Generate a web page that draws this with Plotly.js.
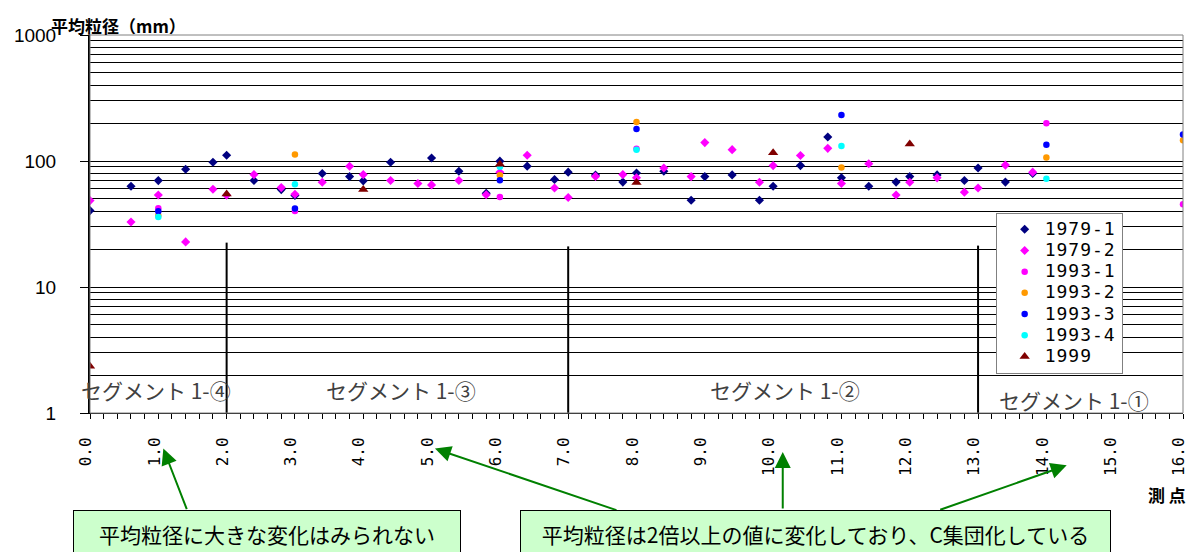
<!DOCTYPE html>
<html>
<head>
<meta charset="utf-8">
<script src="https://cdn.plot.ly/plotly-3.0.1.min.js"></script>
<style>
html,body{margin:0;padding:0;background:#fff;}
#chart{width:1190px;height:552px;}
.legendtext{font-size:18px !important; letter-spacing:1px;}
</style>
</head>
<body>
<div id="chart"></div>
<script>
// ---- data ----
const x1979 = [0,0.6,1.0,1.4,1.8,2.0,2.4,2.8,3.0,3.4,3.8,4.0,4.4,4.8,5.0,5.4,5.8,6.0,6.4,6.8,7.0,7.4,7.8,8.0,8.4,8.8,9.0,9.4,9.8,10.0,10.4,10.8,11.0,11.4,11.8,12.0,12.4,12.8,13.0,13.4,13.8];
const y1979_1 = [40.4,63,69.9,86,97.7,111,70,59.3,53.3,79.5,75.2,69.6,97.7,null,105.7,83,55.4,99.7,91,71.3,81.6,77.5,68,80.2,83,48.8,75.2,77.6,48.8,63,91.9,155,73.5,63,68,75.2,77.6,70,88,68,79.5];
const y1979_2 = [48.5,32.8,53.7,22.8,59.6,53.5,78,61.5,54.5,67.8,90.8,78,70,66.3,64.6,70,54,81.4,111,61,51.3,75.5,78,73.6,87.9,75.2,140,123,67.8,91.9,110.7,126,66.3,95,53.7,67.8,73.5,56.6,61,92.8,81.6];
const x1993_1 = [1,3,6,8,14,16];
const y1993_1 = [42.1,40.1,51.9,125,199,45.3];
const x1993_2 = [1,3,6,8,11,14,16];
const y1993_2 = [37,112.6,77,204,88.8,106.8,146];
const x1993_3 = [1,3,6,8,11,14,16];
const y1993_3 = [39.9,41.9,70.4,179.5,231.6,134.7,162];
const x1993_4 = [1,3,6,8,11,14];
const y1993_4 = [36,65.3,89.9,123,131.7,72.2];
const x1999 = [0,2,4,6,8,10,12];
const y1999 = [2.35,54.7,59.3,94.3,67.6,116.5,136.5];

// segment boundaries and labels
const segX = [2,7,13];
const segTop = [22.5,21,21.3];
const segLabels = ['セグメント 1-④','セグメント 1-③','セグメント 1-②','セグメント 1-①'];
const segLabelX = [0.96,4.55,10.18,14.4];
const segLabelY = [1.51,1.51,1.51,1.26];

const yMajor = [1,10,100,1000];
const yMinor = [2,3,4,5,6,7,8,9,20,30,40,50,60,70,80,90,200,300,400,500,600,700,800,900];

const yTitle = '平均粒径（mm）';
const xTitle = '測 点';
const note1 = '平均粒径に大きな変化はみられない';
const note2 = '平均粒径は2倍以上の値に変化しており、C集団化している';

// ---- traces ----
const segLx = [], segLy = [];
segX.forEach((v,i)=>{segLx.push(v,v,null); segLy.push(1,segTop[i],null);});

const traces = [
  {x:segLx, y:segLy, mode:'lines', line:{color:'#000',width:2}, showlegend:false, hoverinfo:'skip'},
  {name:'1979-1', x:x1979, y:y1979_1, mode:'markers', marker:{symbol:'diamond', size:7, color:'#000080'}},
  {name:'1979-2', x:x1979, y:y1979_2, mode:'markers', marker:{symbol:'diamond', size:7, color:'#ff00ff'}},
  {name:'1993-1', x:x1993_1, y:y1993_1, mode:'markers', marker:{symbol:'circle', size:6.5, color:'#ff00ff'}},
  {name:'1993-2', x:x1993_2, y:y1993_2, mode:'markers', marker:{symbol:'circle', size:6.5, color:'#ff9900'}},
  {name:'1993-3', x:x1993_3, y:y1993_3, mode:'markers', marker:{symbol:'circle', size:6.5, color:'#0000ff'}},
  {name:'1993-4', x:x1993_4, y:y1993_4, mode:'markers', marker:{symbol:'circle', size:6.5, color:'#00ffff'}},
  {name:'1999', x:x1999, y:y1999, mode:'markers', marker:{symbol:'triangle-up', size:9, color:'#800000'}}
];

const jp = 'Noto Sans CJK JP';
const annotations = [];
segLabels.forEach((t,i)=>{
  annotations.push({text:t, xref:'x', yref:'y', x:segLabelX[i], y:Math.log10(segLabelY[i]),
    showarrow:false, font:{family:jp, size:21, color:'#404040'}});
});
annotations.push({text:yTitle, xref:'paper', yref:'paper', x:-0.0375, y:1.0257, xanchor:'left', yanchor:'middle',
  showarrow:false, font:{family:jp, size:17, color:'#000', weight:'bold'}});
annotations.push({text:xTitle, xref:'paper', yref:'paper', x:0.9858, y:-0.2164, xanchor:'center', yanchor:'middle',
  showarrow:false, font:{family:jp, size:17, color:'#000', weight:'bold'}});
// arrows
const arrows = [
  {x:0.0671, y:-0.0942, ax:24, ay:62},
  {x:0.3156, y:-0.0942, ax:183, ay:62},
  {x:0.6338, y:-0.1032, ax:0, ay:58},
  {x:0.8936, y:-0.1384, ax:-128, ay:45}
];
arrows.forEach(a=>{
  annotations.push({text:'', xref:'paper', yref:'paper', x:a.x, y:a.y, ax:a.ax, ay:a.ay,
    showarrow:true, arrowhead:2, arrowsize:1.6, arrowwidth:2, arrowcolor:'#008000'});
});
// boxes
annotations.push({text:note1, xref:'paper', yref:'paper', x:0.162, y:-0.3209, xanchor:'center', yanchor:'middle',
  showarrow:false, width:386, height:46, bgcolor:'#ccffcc', bordercolor:'#000', borderwidth:1, borderpad:0,
  font:{family:jp, size:21, color:'#000'}});
annotations.push({text:note2, xref:'paper', yref:'paper', x:0.6637, y:-0.3209, xanchor:'center', yanchor:'middle',
  showarrow:false, width:589, height:46, bgcolor:'#ccffcc', bordercolor:'#000', borderwidth:1, borderpad:0,
  font:{family:jp, size:21, color:'#000'}});

const layout = {
  width:1190, height:552,
  margin:{l:90, r:7, t:35, b:139},
  paper_bgcolor:'#fff', plot_bgcolor:'#fff',
  showlegend:true,
  legend:{x:0.8286, y:0.530, xanchor:'left', yanchor:'top', bgcolor:'#fff', bordercolor:'#808080', borderwidth:1,
    font:{family:'DejaVu Sans Mono', size:14, color:'#000'}, indentation:8, tracegroupgap:0},
  xaxis:{type:'linear', range:[0,16], tickmode:'linear', tick0:0, dtick:1, tickformat:'.1f', tickangle:-90,
    ticks:'outside', ticklen:5, tickcolor:'#000', showgrid:false, zeroline:false,
    showline:true, linecolor:'#000', linewidth:1, ticklabelstandoff:12, ticklabelshift:-4, ticklabeloverflow:'allow',
    tickfont:{family:'DejaVu Sans Mono', size:16, color:'#000'},
    minor:{dtick:0.2, tick0:0, ticks:'outside', ticklen:5, tickcolor:'#000', showgrid:false}},
  yaxis:{type:'log', range:[0,3], tickmode:'array', tickvals:yMajor, ticktext:yMajor.map(String),
    ticks:'outside', ticklen:8, tickcolor:'#000', showgrid:true, gridcolor:'#000', gridwidth:1,
    showline:true, linecolor:'#000', linewidth:2, zeroline:false, ticklabelstandoff:20,
    tickfont:{family:'Liberation Sans', size:19, color:'#000'},
    minor:{tickmode:'array', tickvals:yMinor, ticks:'', showgrid:true, gridcolor:'#000', gridwidth:1}},
  shapes:[{type:'rect', xref:'paper', yref:'paper', x0:0, x1:1, y0:0, y1:1, line:{color:'#808080', width:1}, layer:'above'}],
  annotations:annotations
};

Plotly.newPlot('chart', traces, layout, {displayModeBar:false, staticPlot:true});
</script>
</body>
</html>
